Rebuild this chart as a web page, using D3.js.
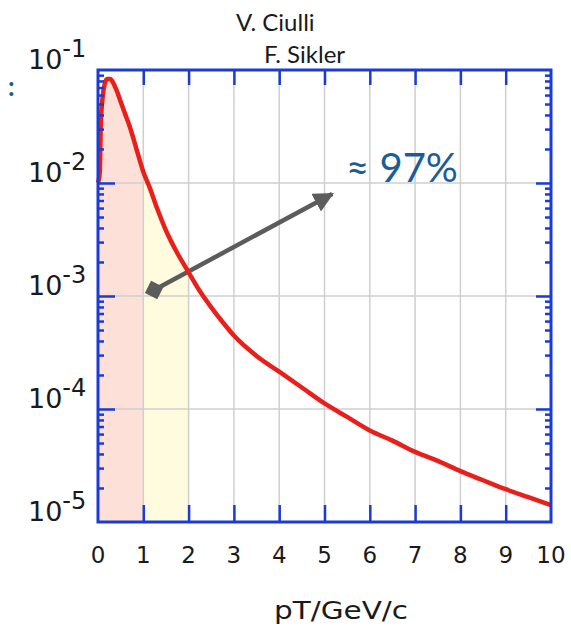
<!DOCTYPE html>
<html>
<head>
<meta charset="utf-8">
<script src="https://cdn.jsdelivr.net/npm/d3@7"></script>
<style>
  body { margin: 0; background: #fff; }
  svg { display: block; }
</style>
</head>
<body>
<svg width="571" height="626"></svg>
<script>
// pT spectrum
var pt = [0, 0.04, 0.06, 0.10, 0.15, 0.20, 0.27, 0.33, 0.40, 0.50, 0.60, 0.70, 0.80, 0.90, 1.00,
          1.15, 1.30, 1.50, 1.75, 2.00, 2.25, 2.50, 2.75, 3.00, 3.50, 4.00, 4.50, 5.00, 5.50,
          6.00, 6.50, 7.00, 7.50, 8.00, 8.50, 9.00, 9.50, 10.0];
var yieldValues = [1.00e-2, 1.26e-2, 3.16e-2, 5.62e-2, 7.59e-2, 8.32e-2, 8.32e-2, 7.76e-2, 6.76e-2,
          5.25e-2, 4.07e-2, 3.16e-2, 2.34e-2, 1.70e-2, 1.26e-2, 8.91e-3, 6.03e-3, 3.80e-3,
          2.40e-3, 1.62e-3, 1.10e-3, 7.94e-4, 5.89e-4, 4.47e-4, 2.95e-4, 2.14e-4, 1.55e-4,
          1.12e-4, 8.51e-5, 6.46e-5, 5.25e-5, 4.17e-5, 3.47e-5, 2.82e-5, 2.34e-5, 1.95e-5,
          1.66e-5, 1.41e-5];
var xTicks = [0, 1, 2, 3, 4, 5, 6, 7, 8, 9, 10];
var yDecades = [1e-5, 1e-4, 1e-3, 1e-2, 1e-1];
var yExponents = ["-5", "-4", "-3", "-2", "-1"];
var bands = [{from: 0, to: 1, color: "#fde0d7"}, {from: 1, to: 2, color: "#fefbde"}];
var arrowFrom = [1.24, 1.13e-3], arrowTo = [5.17, 8.0e-3];

var svg = d3.select("svg");
var plotL = 98, plotR = 551, plotT = 70, plotB = 522;
var blue = "#1a3bd6";
var numFont = "DejaVu Sans";

var x = d3.scaleLinear().domain([0, 10]).range([plotL, plotR]);
var y = d3.scaleLog().domain([1e-5, 1e-1]).range([plotB, plotT]);

var data = pt.map(function(p, i) { return {pt: p, v: yieldValues[i]}; });

// shaded bands under the curve
var area = d3.area()
    .x(function(d) { return x(d.pt); })
    .y0(plotB)
    .y1(function(d) { return y(d.v); })
    .curve(d3.curveMonotoneX);

var defs = svg.append("defs");
bands.forEach(function(b, i) {
    defs.append("clipPath").attr("id", "band" + i)
        .append("rect")
        .attr("x", x(b.from)).attr("y", plotT)
        .attr("width", x(b.to) - x(b.from)).attr("height", plotB - plotT);
    svg.append("path")
        .datum(data)
        .attr("clip-path", "url(#band" + i + ")")
        .attr("fill", b.color)
        .attr("d", area);
});

// grid
svg.append("g").selectAll("line")
    .data(xTicks.slice(1, -1))
    .enter().append("line")
    .attr("x1", function(d) { return x(d); }).attr("x2", function(d) { return x(d); })
    .attr("y1", plotT).attr("y2", plotB)
    .attr("stroke", "#cfcfcf").attr("stroke-width", 1.5);
svg.append("g").selectAll("line")
    .data(yDecades.slice(1, -1))
    .enter().append("line")
    .attr("y1", function(d) { return y(d); }).attr("y2", function(d) { return y(d); })
    .attr("x1", plotL).attr("x2", plotR)
    .attr("stroke", "#cfcfcf").attr("stroke-width", 1.5);

// arrow
defs.append("marker").attr("id", "head")
    .attr("viewBox", "0 -5 10 10").attr("refX", 9).attr("refY", 0)
    .attr("markerWidth", 4.5).attr("markerHeight", 4.5).attr("orient", "auto")
    .append("path").attr("d", "M0,-5L10,0L0,5Z").attr("fill", "#5c5c5c");
defs.append("marker").attr("id", "tail")
    .attr("viewBox", "-5 -5 10 10").attr("refX", 0).attr("refY", 0)
    .attr("markerWidth", 4.4).attr("markerHeight", 4.4).attr("orient", "auto")
    .append("path").attr("d", "M-3.5,-3.5L3.5,-3.5L3.5,3.5L-3.5,3.5Z")
    .attr("transform", "rotate(55)").attr("fill", "#5c5c5c");
svg.append("line")
    .attr("x1", x(arrowFrom[0])).attr("y1", y(arrowFrom[1]))
    .attr("x2", x(arrowTo[0])).attr("y2", y(arrowTo[1]))
    .attr("stroke", "#5c5c5c").attr("stroke-width", 4.5)
    .attr("marker-start", "url(#tail)").attr("marker-end", "url(#head)");

// spectrum
var line = d3.line()
    .x(function(d) { return x(d.pt); })
    .y(function(d) { return y(d.v); })
    .curve(d3.curveMonotoneX);
svg.append("path")
    .datum(data)
    .attr("fill", "none")
    .attr("stroke", "#e8201c")
    .attr("stroke-width", 4.5)
    .attr("stroke-linejoin", "round")
    .attr("d", line);

// frame and ticks
function styleAxis(g) {
    g.select(".domain").remove();
    g.selectAll(".tick line").attr("stroke", blue).attr("stroke-width", 2.5);
    g.selectAll(".tick text").remove();
}
var minorY = [];
yDecades.slice(0, -1).forEach(function(d) {
    for (var k = 2; k <= 9; k++) minorY.push(d * k);
});

svg.append("g").attr("transform", "translate(0," + plotB + ")")
    .call(d3.axisBottom(x).tickValues(xTicks.slice(1, -1)).tickSize(-17)).call(styleAxis);
svg.append("g").attr("transform", "translate(0," + plotT + ")")
    .call(d3.axisTop(x).tickValues(xTicks.slice(1, -1)).tickSize(-15)).call(styleAxis);
svg.append("g").attr("transform", "translate(" + plotL + ",0)")
    .call(d3.axisLeft(y).tickValues(yDecades.slice(1, -1)).tickSize(-17)).call(styleAxis);
svg.append("g").attr("transform", "translate(" + plotL + ",0)")
    .call(d3.axisLeft(y).tickValues(minorY).tickSize(-6)).call(styleAxis);
svg.append("g").attr("transform", "translate(" + plotR + ",0)")
    .call(d3.axisRight(y).tickValues(yDecades.slice(1, -1)).tickSize(-15)).call(styleAxis);
svg.append("g").attr("transform", "translate(" + plotR + ",0)")
    .call(d3.axisRight(y).tickValues(minorY).tickSize(-6)).call(styleAxis);

svg.append("rect")
    .attr("x", plotL).attr("y", plotT)
    .attr("width", plotR - plotL).attr("height", plotB - plotT)
    .attr("fill", "none").attr("stroke", blue).attr("stroke-width", 3);

// tick labels
svg.append("g").selectAll("text")
    .data(xTicks)
    .enter().append("text")
    .attr("x", function(d) { return x(d); })
    .attr("y", 563)
    .attr("text-anchor", "middle")
    .attr("font-family", numFont).attr("font-size", 23).attr("fill", "#1a1a1a")
    .text(function(d) { return d; });

var yl = svg.append("g").selectAll("text")
    .data(yDecades)
    .enter().append("text")
    .attr("x", 28)
    .attr("y", function(d) { return y(d) - 1; })
    .attr("font-family", numFont).attr("fill", "#1a1a1a");
yl.append("tspan").attr("font-size", 27).text("10");
yl.append("tspan").attr("font-size", 24).attr("dy", -12)
    .text(function(d, i) { return yExponents[i]; });

// axis title
svg.append("text")
    .attr("x", 341).attr("y", 619)
    .attr("text-anchor", "middle")
    .attr("font-family", numFont).attr("font-size", 25).attr("fill", "#1a1a1a")
    .attr("textLength", 134).attr("lengthAdjust", "spacingAndGlyphs")
    .text("pT/GeV/c");

// annotations
svg.append("text").attr("x", 236).attr("y", 31)
    .attr("font-family", "Lato").attr("font-size", 24).attr("fill", "#1a1a1a")
    .text("V. Ciulli");
svg.append("text").attr("x", 264).attr("y", 63)
    .attr("font-family", "Lato").attr("font-size", 24).attr("fill", "#1a1a1a")
    .text("F. Sikler");
svg.append("text").attr("x", 346).attr("y", 182)
    .attr("font-family", "Lato").attr("font-size", 40).attr("fill", "#1c5d96")
    .text("≈ 97%");
svg.append("text").attr("x", 8).attr("y", 96)
    .attr("font-family", "Lato").attr("font-size", 26).attr("font-weight", "bold").attr("fill", "#1c5d96")
    .text(":");
</script>
</body>
</html>
